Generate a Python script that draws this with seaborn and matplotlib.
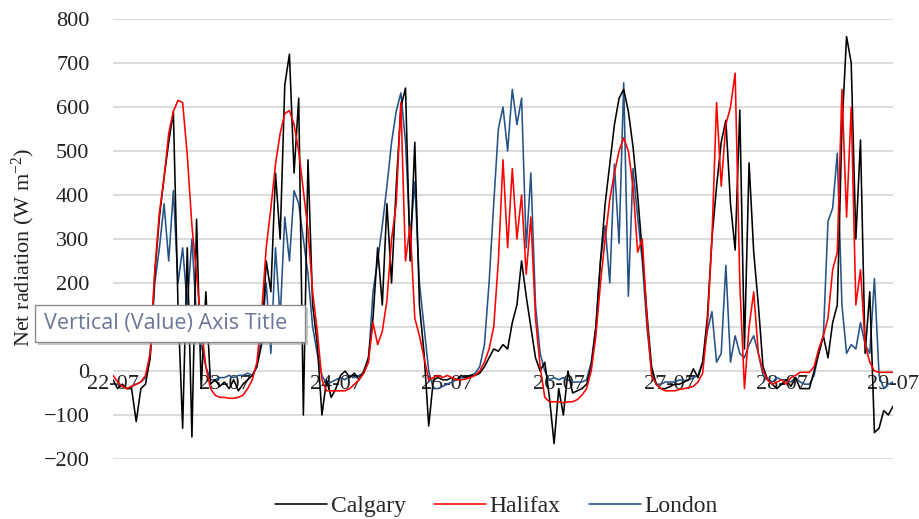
import numpy as np
import pandas as pd
import matplotlib
matplotlib.use("Agg")
import matplotlib.pyplot as plt
import matplotlib.dates as mdates
from matplotlib.patches import Rectangle
import seaborn as sns

# ---------------- data (hourly, W m-2) ----------------
start = "2016-07-22 00:00"
n_hours = 169

calgary = [
    -20, -40, -30, -40, -40, -115, -40, -30, 30, 220, 350, 440, 520, 590, 150, -130, 280, -150, 345, -40, 180, -30, -20, -35,
    -25, -40, -20, -45, -30, -20, -10, 10, 60, 250, 180, 450, 300, 650, 720, 450, 620, -100, 480, 150, 60, -100, -20, -60,
    -40, -10, 0, -15, -5, -20, 0, 30, 120, 280, 150, 380, 200, 420, 600, 643, 250, 520, 150, 40, -125, -20, -15, -20,
    -20, -15, -20, -10, -15, -10, -10, -5, 10, 30, 50, 45, 60, 50, 110, 150, 250, 170, 100, 30, 0, 20, -60, -165,
    -40, -100, 0, -50, -45, -40, -30, 10, 100, 250, 380, 470, 560, 620, 640, 590, 510, 400, 270, 130, 10, -30, -40, -40,
    -35, -30, -30, -25, -20, 5, -15, 20, 120, 300, 420, 520, 570, 380, 275, 593, 50, 473, 270, 150, 10, -20, -30, -40,
    -30, -20, -35, -15, -40, -40, -40, 0, 40, 80, 30, 110, 150, 550, 760, 700, 300, 525, 40, 180, -140, -130, -90, -100,
    -80,
]

halifax = [
    -10, -25, -35, -40, -35, -30, -25, -10, 40, 230, 360, 440, 540, 590, 615, 610, 490, 330, 220, 100, 10, -40, -55, -60,
    -60, -62, -62, -60, -55, -40, -20, 20, 130, 280, 370, 470, 540, 585, 592, 560, 500, 410, 320, 180, 90, -20, -45, -45,
    -45, -45, -45, -40, -30, -20, -5, 20, 110, 60, 90, 160, 300, 380, 610, 250, 330, 120, 80, 30, -20, -15, -10, -15,
    -10, -15, -20, -20, -18, -15, -10, 0, 20, 50, 100, 250, 480, 280, 460, 300, 400, 220, 350, 120, 10, -60, -70, -70,
    -70, -72, -70, -70, -65, -55, -40, 0, 80, 200, 300, 390, 450, 500, 530, 500, 420, 270, 300, 120, -10, -30, -40, -45,
    -45, -45, -42, -40, -38, -35, -25, -5, 100, 300, 610, 420, 560, 600, 677, 200, -40, 100, 180, 40, 0, -20, -30, -25,
    -20, -30, -15, -10, -3, -3, -3, 10, 50, 80, 120, 230, 270, 640, 350, 600, 150, 230, 60, 20, 0, -3, -3, -3,
    -3,
]

london = [
    -30, -30, -35, -40, -35, -30, -25, -15, 30, 200, 280, 380, 250, 410, 200, 280, 150, 300, 120, 60, 10, -20, -20, -15,
    -15, -10, -15, -10, -10, -5, -10, 10, 80, 200, 40, 280, 120, 350, 250, 410, 380, 300, 220, 100, 40, -10, -30, -25,
    -20, -15, -20, -10, -15, -10, -5, 20, 180, 250, 330, 420, 520, 590, 632, 520, 300, 430, 200, 100, 0, -40, -40, -35,
    -30, -25, -20, -15, -15, -10, -5, 10, 60, 200, 380, 550, 600, 500, 640, 560, 620, 280, 450, 150, 40, 0, -20, -15,
    -20, -15, -20, -25, -25, -25, -20, 20, 100, 250, 330, 200, 470, 290, 655, 170, 460, 350, 250, 100, 0, -30, -30, -25,
    -25, -25, -20, -22, -20, -15, -10, 20, 90, 135, 20, 40, 240, 20, 80, 40, 30, 60, 80, 40, -10, -20, -25, -15,
    -20, -20, -25, -15, -25, -30, -30, -10, 40, 80, 340, 370, 495, 150, 40, 60, 50, 110, 60, 40, 210, -10, -40, -30,
    -25,
]

cities = ["Calgary", "Halifax", "London"]
colors = {"Calgary": "#000000", "Halifax": "#ff0000", "London": "#255386"}
y_ticks = [-200, -100, 0, 100, 200, 300, 400, 500, 600, 700, 800]

# ------------------------------------------------------------------------------
times = pd.date_range(start, periods=n_hours, freq="h")
df = pd.concat([
    pd.DataFrame({"time": times, "value": vals, "city": name})
    for name, vals in zip(cities, [calgary, halifax, london])
])

sns.set_theme(style="white")
plt.rcParams["font.family"] = ["Liberation Serif", "DejaVu Serif"]
plt.rcParams["mathtext.fontset"] = "custom"
plt.rcParams["mathtext.rm"] = "Liberation Serif"
plt.rcParams["mathtext.it"] = "Liberation Serif:italic"

fig = plt.figure(figsize=(9.19, 5.19), dpi=100)
ax = fig.add_axes([113 / 919, 1 - 459 / 519, 780 / 919, 440 / 519])

for name, z in [("London", 2), ("Calgary", 3), ("Halifax", 4)]:
    sns.lineplot(data=df[df["city"] == name], x="time", y="value", ax=ax,
                 color=colors[name], lw=1.15, label=name, zorder=z)
h, l = ax.get_legend_handles_labels()
lut = dict(zip(l, h))
ax.get_legend().remove()

ax.set_xlim(times[0], times[-1])
ax.set_ylim(-200, 800)
ax.set_yticks(y_ticks)
ax.xaxis.set_major_locator(mdates.DayLocator())
ax.xaxis.set_major_formatter(mdates.DateFormatter("%d-%m"))
ax.grid(axis="y", color="#d9d9d9", lw=1.3)
ax.grid(axis="x", visible=False)
for s in ax.spines.values():
    s.set_visible(False)
ax.spines["bottom"].set_position(("data", 0))
ax.tick_params(axis="x", length=0, pad=3, labelsize=16, colors="#222222")
ax.tick_params(axis="y", length=0, pad=17, labelsize=16, colors="#222222")

ax.set_xlabel("")
ax.set_ylabel("Net radiation (W m$^{-2}$)", fontsize=16, color="#222222")
ax.yaxis.set_label_coords(-0.097, 0.48)

fig.legend([lut[c] for c in cities], cities, loc="center", ncol=3,
           bbox_to_anchor=(0.54, 0.024), frameon=False, fontsize=17,
           handlelength=2.2, handletextpad=0.15, columnspacing=1.2)

# Tooltip overlay
x0, y0, w, hgt = 35 / 919, 1 - 342 / 519, 270 / 919, 37 / 519
fig.patches.append(Rectangle((x0 + 3 / 919, y0 - 3 / 519), w, hgt, transform=fig.transFigure,
                             facecolor="#9a9a9a", edgecolor="none", alpha=0.55, zorder=10))
fig.patches.append(Rectangle((x0, y0), w, hgt, transform=fig.transFigure,
                             facecolor="white", edgecolor="#8a8a8a", lw=1, zorder=11))
fig.text(44 / 919, 1 - 324 / 519, "Vertical (Value) Axis Title", family=["Open Sans", "DejaVu Sans"],
         fontsize=15.5, color="#6a7597", va="center", ha="left", zorder=12)

fig.savefig("out.png", dpi=100)
